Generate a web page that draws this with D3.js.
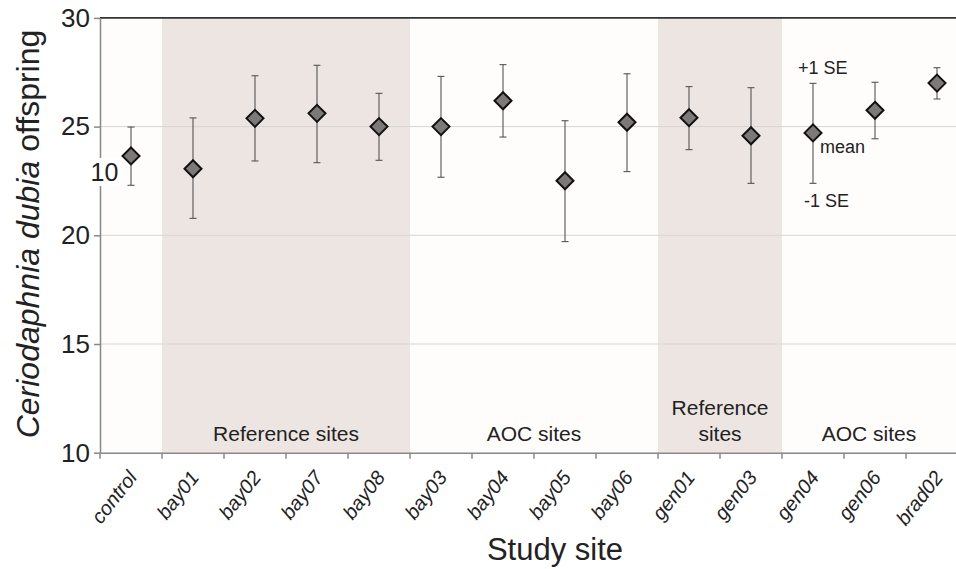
<!DOCTYPE html>
<meta charset="utf-8">
<body style="margin:0;background:#fff">
<script src="https://cdn.jsdelivr.net/npm/d3@7/dist/d3.min.js"></script>
<script>

    var width = 956,
        height = 569;

    // data
    var sites = ["control", "bay01", "bay02", "bay07", "bay08", "bay03", "bay04",
                 "bay05", "bay06", "gen01", "gen03", "gen04", "gen06", "brad02"];
    var means = [23.65, 23.06, 25.38, 25.61, 25.0, 25.0, 26.19, 22.51, 25.2, 25.41, 24.58, 24.71, 25.75, 27.0];
    var plusSE = [24.98, 25.4, 27.34, 27.82, 26.53, 27.31, 27.85, 25.27, 27.43, 26.84, 26.79, 26.99, 27.04, 27.71];
    var minusSE = [22.3, 20.78, 23.42, 23.34, 23.45, 22.67, 24.52, 19.71, 22.93, 23.94, 22.39, 22.39, 24.44, 26.27];
    var yTicks = [10, 15, 20, 25, 30];
    var gridTicks = [15, 20, 25];

    // site groups along the x axis
    var groupLabels = [["Reference sites"], ["AOC sites"], ["Reference", "sites"], ["AOC sites"]];
    var groupFrom = ["bay01", "bay03", "gen01", "gen04"];
    var groupTo = ["bay08", "bay06", "gen03", "brad02"];
    var groupShaded = [true, false, true, false];

    var plotLeft = 100, plotRight = 968, plotTop = 17.9, plotBottom = 452.7;

    var x = d3.scaleBand().domain(sites).range([plotLeft, plotRight]).padding(0);
    var y = d3.scaleLinear().domain([10, 30]).range([plotBottom, plotTop]);

    var svg = d3.select("body").append("svg")
            .attr("width", width)
            .attr("height", height)
            .style("font-family", "'Liberation Sans', Arial, sans-serif");

    // plot background
    svg.append("rect")
            .attr("x", plotLeft).attr("y", plotTop)
            .attr("width", width - plotLeft).attr("height", plotBottom - plotTop)
            .attr("fill", "#fefdfb");

    // shaded reference groups and group labels
    groupLabels.forEach(function(lab, i) {
        var x0 = x(groupFrom[i]), x1 = x(groupTo[i]) + x.bandwidth();
        if (groupShaded[i]) {
            svg.append("rect")
                    .attr("x", x0).attr("y", plotTop)
                    .attr("width", x1 - x0).attr("height", plotBottom - plotTop)
                    .attr("fill", "#ede5e2");
        }
        var cx = (x0 + x1) / 2;
        if (i == 3) cx -= 6;
        var t = svg.append("text")
                .attr("text-anchor", "middle")
                .attr("font-size", 21)
                .attr("fill", "#222");
        lab.forEach(function(line, j) {
            t.append("tspan")
                    .attr("x", cx)
                    .attr("y", plotBottom - 11.5 - (lab.length - 1 - j) * 26)
                    .text(line);
        });
    });

    // grid lines
    svg.selectAll(".grid").data(gridTicks).enter().append("line")
            .attr("x1", plotLeft).attr("x2", width)
            .attr("y1", function(d) { return y(d); })
            .attr("y2", function(d) { return y(d); })
            .attr("stroke", "#d8d4d2")
            .attr("stroke-width", 1);

    // top border
    svg.append("line")
            .attr("x1", plotLeft).attr("x2", width)
            .attr("y1", plotTop).attr("y2", plotTop)
            .attr("stroke", "#333").attr("stroke-width", 1.6);

    // y axis
    var yAxis = svg.append("g")
            .attr("transform", "translate(" + plotLeft + ",0)")
            .call(d3.axisLeft(y).tickValues(yTicks).tickSize(6).tickSizeOuter(0).tickPadding(4));
    yAxis.select(".domain").attr("stroke", "#888").attr("stroke-width", 1.5);
    yAxis.selectAll(".tick line").attr("stroke", "#888").attr("stroke-width", 1.5);
    yAxis.selectAll(".tick text")
            .attr("font-size", 26)
            .attr("font-family", "'Liberation Sans', Arial, sans-serif")
            .attr("fill", "#222");

    // x axis
    var xAxis = svg.append("g")
            .attr("transform", "translate(0," + plotBottom + ")")
            .call(d3.axisBottom(x).tickSize(0).tickSizeOuter(0).tickPadding(0));
    xAxis.select(".domain").attr("stroke", "#888").attr("stroke-width", 1.5);
    xAxis.selectAll(".tick text")
            .attr("font-size", 20)
            .attr("font-style", "italic")
            .attr("font-family", "'Liberation Sans', Arial, sans-serif")
            .attr("fill", "#222")
            .attr("text-anchor", "end")
            .attr("dy", null)
            .attr("transform", "translate(7,25) rotate(-52)");

    // band boundary ticks
    svg.selectAll(".btick").data(sites).enter().append("line")
            .attr("x1", function(d) { return x(d); })
            .attr("x2", function(d) { return x(d); })
            .attr("y1", plotBottom).attr("y2", plotBottom + 6)
            .attr("stroke", "#888").attr("stroke-width", 1.5);

    // error bars
    var bars = svg.selectAll(".err").data(sites).enter().append("g")
            .attr("transform", function(d) { return "translate(" + (x(d) + x.bandwidth() / 2) + ",0)"; });
    bars.append("line")
            .attr("y1", function(d, i) { return y(plusSE[i]); })
            .attr("y2", function(d, i) { return y(minusSE[i]); })
            .attr("stroke", "#555").attr("stroke-width", 1.1);
    bars.append("line")
            .attr("x1", -3.5).attr("x2", 3.5)
            .attr("y1", function(d, i) { return y(plusSE[i]); })
            .attr("y2", function(d, i) { return y(plusSE[i]); })
            .attr("stroke", "#555").attr("stroke-width", 1.1);
    bars.append("line")
            .attr("x1", -3.5).attr("x2", 3.5)
            .attr("y1", function(d, i) { return y(minusSE[i]); })
            .attr("y2", function(d, i) { return y(minusSE[i]); })
            .attr("stroke", "#555").attr("stroke-width", 1.1);

    // mean diamonds
    var r = 8.5;
    bars.append("path")
            .attr("d", function(d, i) {
                var cy = y(means[i]);
                return "M0," + (cy - r) + "L" + r + "," + cy + "L0," + (cy + r) + "L" + (-r) + "," + cy + "Z";
            })
            .attr("fill", "#7d7977")
            .attr("stroke", "#111")
            .attr("stroke-width", 2);

    // SE legend text next to gen04
    var gx = x("gen04") + x.bandwidth() / 2;
    svg.append("text").attr("x", gx - 15).attr("y", y(27.42)).attr("font-size", 18).attr("fill", "#222").text("+1 SE");
    svg.append("text").attr("x", gx + 7).attr("y", y(23.8)).attr("font-size", 18).attr("fill", "#222").text("mean");
    svg.append("text").attr("x", gx - 9).attr("y", y(21.32)).attr("font-size", 18).attr("fill", "#222").text("-1 SE");

    // stray "10" label in the original figure
    svg.append("rect").attr("x", 89).attr("y", 158).attr("width", 31).attr("height", 28).attr("fill", "#fff");
    svg.append("text").attr("x", 104.5).attr("y", 181).attr("text-anchor", "middle")
            .attr("font-size", 25).attr("fill", "#222").text("10");

    // axis titles
    svg.append("text")
            .attr("transform", "translate(38.5,234) rotate(-90)")
            .attr("text-anchor", "middle")
            .attr("font-size", 32)
            .attr("fill", "#222")
            .html("<tspan font-style='italic'>Ceriodaphnia dubia</tspan> offspring");

    svg.append("text")
            .attr("x", 555).attr("y", 560)
            .attr("text-anchor", "middle")
            .attr("font-size", 31)
            .attr("fill", "#222")
            .text("Study site");

</script>
